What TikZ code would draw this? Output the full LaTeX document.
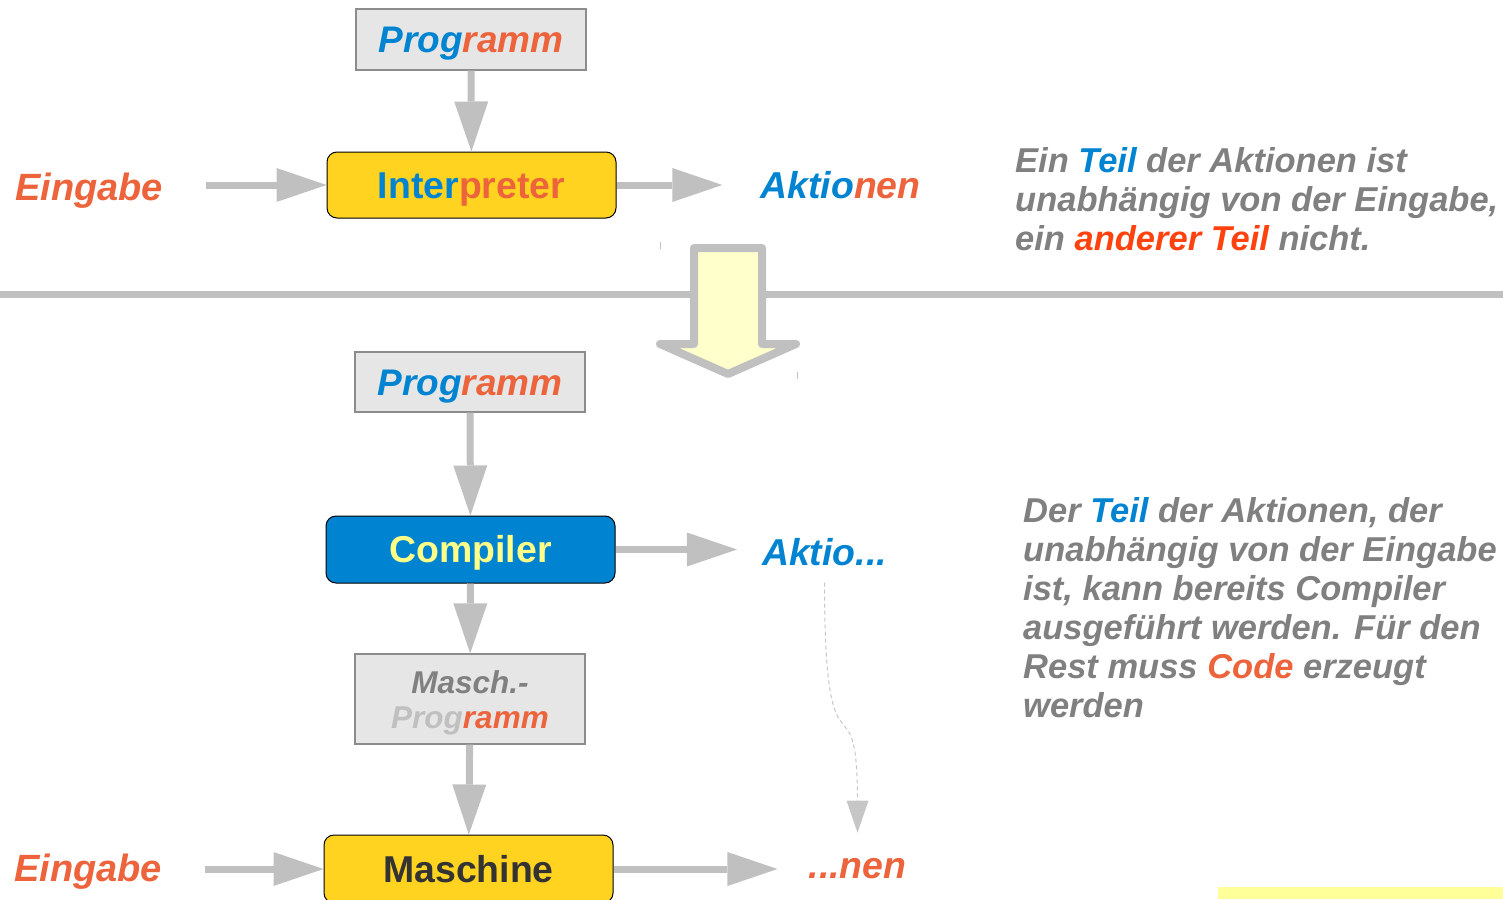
\documentclass[tikz,border=0pt]{standalone}
\usepackage{fontspec}
\setmainfont{Liberation Sans}
\usetikzlibrary{arrows.meta}

\definecolor{cblue}{HTML}{0084D1}
\definecolor{corange}{RGB}{236,99,60}
\definecolor{cred}{HTML}{FF420E}
\definecolor{cyellow}{HTML}{FFD320}
\definecolor{ctextyellow}{RGB}{255,255,135}
\definecolor{agray}{HTML}{C0C0C0}
\definecolor{boxfill}{HTML}{E6E6E6}
\definecolor{boxline}{HTML}{8C8C8C}
\definecolor{tgray}{HTML}{808080}
\definecolor{lgray}{HTML}{C0C0C0}
\definecolor{dark}{HTML}{333333}
\definecolor{paleyellow}{HTML}{FFFFCC}
\definecolor{stripyellow}{HTML}{FFFF99}

\tikzset{
  lbl/.style={font=\fontsize{37.4}{43}\selectfont\bfseries\itshape, inner sep=0pt, anchor=base},
  inlbl/.style={lbl, font=\fontsize{38}{44}\selectfont\bfseries\itshape},
  progbox/.style={draw=boxline, fill=boxfill, line width=1.2pt, inner sep=0pt,
    minimum width=230pt, font=\fontsize{37}{43}\selectfont\bfseries\itshape,
    text height=26pt, text depth=0pt},
  procbox/.style={draw=black, line width=1pt, rounded corners=10pt, inner sep=0pt,
    minimum width=289pt, font=\fontsize{37.4}{43}\selectfont\bfseries,
    text height=26pt, text depth=0pt},
  conn/.style={draw=agray, line width=7pt,
    -{Triangle[length=50pt,width=34pt,line width=0pt]}},
  dashconn/.style={draw=agray!90, line width=1pt, dash pattern=on 4pt off 3pt,
    -{Triangle[length=32pt,width=22pt,line width=0pt]}},
  note/.style={font=\fontsize{34.5}{39}\selectfont\bfseries\itshape, text=tgray,
    inner sep=0pt, anchor=base west},
}

\begin{document}
\begin{tikzpicture}[x=1pt,y=-1pt]
\useasboundingbox (0,0) rectangle (1503,899);

% separator between the two halves
\draw[agray, line width=7pt] (0,294) -- (1503,294);

% big transition arrow
\draw[agray, line width=8pt, fill=paleyellow, line join=round]
  (694,248) -- (762,248) -- (762,344) -- (796,344) -- (728,374)
  -- (660,344) -- (694,344) -- cycle;
\draw[agray, line width=1pt] (660,242) -- (660,249);
\draw[agray, line width=1pt] (797,372) -- (797,379);

% ---------- interpreter ----------
\node[progbox, minimum height=61pt] (prog1) at (471,39.5)
  {\textcolor{cblue}{Prog}\textcolor{corange}{ramm}};
\node[procbox, fill=cyellow, minimum height=66pt] (interp) at (471.5,185)
  {\textcolor{cblue}{Inter}\textcolor{corange}{preter}};
\node[inlbl, text=corange] (ein1) at (89,200) {Eingabe};
\node[lbl] (akt1) at (840.5,198) {\textcolor{cblue}{Aktio}\textcolor{corange}{nen}};

\draw[conn] (prog1) -- (interp);
\draw[conn, shorten <=43pt] (ein1.east |- interp.west) -- (interp.west);
\draw[conn, shorten >=38pt] (interp.east) -- (akt1.west |- interp.east);

\node[note] (n1a) at (1015,172) {Ein \textcolor{cblue}{Teil} der Aktionen ist};
\node[note] (n1b) at (1015,211) {unabhängig von der Eingabe,};
\node[note] (n1c) at (1015,250) {ein \textcolor{cred}{anderer Teil} nicht.};

% ---------- compiler ----------
\node[progbox, minimum height=60pt] (prog2) at (470,382)
  {\textcolor{cblue}{Prog}\textcolor{corange}{ramm}};
\node[procbox, fill=cblue, text=ctextyellow, minimum height=67pt] (comp) at (470.5,549.5)
  {Compiler};
\node[lbl, text=cblue] (akt2) at (824.5,565) {Aktio...};

\node[draw=boxline, fill=boxfill, line width=1.2pt, inner sep=0pt,
  minimum width=230pt, minimum height=90pt] (masch) at (470,699) {};
\node[align=center, inner sep=0pt, font=\fontsize{31.5}{35}\selectfont\bfseries\itshape,
  text=tgray, yshift=-4pt] (maschtext) at (masch.center)
  {Masch.-\\\textcolor{lgray}{Prog}\textcolor{corange}{ramm}};

\node[procbox, fill=cyellow, text=dark, minimum height=68pt] (mach) at (468.5,869)
  {Maschine};
\node[inlbl, text=corange] (ein2) at (88,881) {Eingabe};
\node[lbl, text=corange] (nen) at (857.5,878) {...nen};

\draw[conn] (prog2) -- (comp);
\draw[conn, shorten >=25pt] (comp.east) -- (akt2.west |- comp.east);
\draw[conn] (comp) -- (masch);
\draw[conn] (masch) -- (mach);
\draw[conn, shorten <=43pt] (ein2.east |- mach.west) -- (mach.west);
\draw[conn, shorten >=31pt] (mach.east) -- (nen.west |- mach.east);
\draw[dashconn, shorten <=17pt, shorten >=25pt]
  (akt2.south) .. controls +(0,230) and +(0,-190) .. (nen.north);

\node[note] (n2a) at (1023,522) {Der \textcolor{cblue}{Teil} der Aktionen, der};
\node[note] (n2b) at (1023,561) {unabhängig von der Eingabe};
\node[note] (n2c) at (1023,600) {ist, kann bereits Compiler};
\node[note] (n2d) at (1023,639) {ausgeführt werden. Für den};
\node[note] (n2e) at (1023,678) {Rest muss \textcolor{corange}{Code} erzeugt};
\node[note] (n2f) at (1023,717) {werden};

% yellow strip at the lower right edge
\fill[stripyellow] (1218,887) rectangle (1503,899);
\end{tikzpicture}
\end{document}
